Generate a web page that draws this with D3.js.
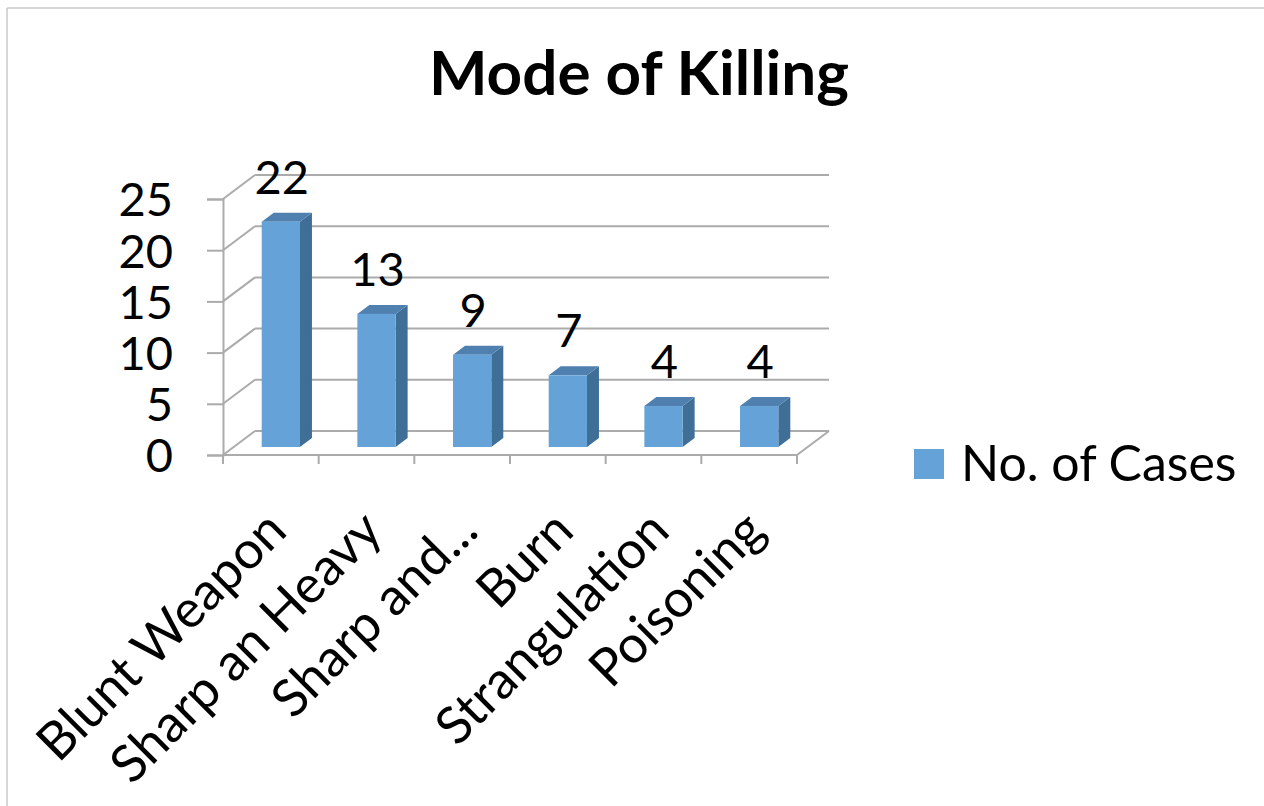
<!DOCTYPE html>
<html>
<head>
<meta charset="utf-8">
<script src="https://cdn.jsdelivr.net/npm/d3@7"></script>
<style>
  body { margin: 0; background: #fff; }
  text { font-family: Lato, "Open Sans", sans-serif; fill: #000; }
</style>
</head>
<body>
<div id="chart"></div>
<script>
var categories = ["Blunt Weapon", "Sharp an Heavy", "Sharp and...", "Burn", "Strangulation", "Poisoning"];
var cases = [22, 13, 9, 7, 4, 4];
var yTicks = [0, 5, 10, 15, 20, 25];
var seriesName = "No. of Cases";
var title = "Mode of Killing";

var w = 1264, h = 806;
var svg = d3.select("#chart").append("svg")
    .attr("width", w)
    .attr("height", h);

// outer frame (only top and left edge show in the picture)
svg.append("line").attr("x1", 7).attr("y1", 8).attr("x2", w).attr("y2", 8)
    .attr("stroke", "#c8c8c8").attr("stroke-width", 1.5);
svg.append("line").attr("x1", 7).attr("y1", 8).attr("x2", 7).attr("y2", h)
    .attr("stroke", "#c8c8c8").attr("stroke-width", 1.5);

var x = d3.scaleBand().domain(categories).range([223, 797]);
var y = d3.scaleLinear().domain([0, 25]).range([455, 199]);

var depthX = 32, depthY = -24;      // wall depth
var barDX = 12, barDY = -9;        // bar depth
var offX = 10, offY = -8;          // bar front face sits inside the floor
var gridColor = "#ababab";

// back wall gridlines and side wall diagonals
var grid = svg.append("g");
yTicks.forEach(function(t) {
    grid.append("line")
        .attr("x1", x.range()[0] + depthX).attr("y1", y(t) + depthY)
        .attr("x2", x.range()[1] + depthX).attr("y2", y(t) + depthY)
        .attr("stroke", gridColor).attr("stroke-width", 2);
    grid.append("line")
        .attr("x1", x.range()[0]).attr("y1", y(t))
        .attr("x2", x.range()[0] + depthX).attr("y2", y(t) + depthY)
        .attr("stroke", gridColor).attr("stroke-width", 2);
});
// floor right edge and front edge
grid.append("line")
    .attr("x1", x.range()[1]).attr("y1", y(0))
    .attr("x2", x.range()[1] + depthX).attr("y2", y(0) + depthY)
    .attr("stroke", gridColor).attr("stroke-width", 2);
grid.append("line")
    .attr("x1", x.range()[0]).attr("y1", y(0))
    .attr("x2", x.range()[1]).attr("y2", y(0))
    .attr("stroke", gridColor).attr("stroke-width", 2);

// y axis
var yAxis = d3.axisLeft(y).tickValues(yTicks).tickSize(16).tickPadding(34);
var ya = svg.append("g").attr("transform", "translate(" + x.range()[0] + ",0)").call(yAxis);
ya.select(".domain").attr("stroke", gridColor).attr("stroke-width", 2);
ya.selectAll(".tick line").attr("stroke", gridColor).attr("stroke-width", 2);
ya.selectAll(".tick text").attr("font-size", 47).attr("font-family", "Lato").attr("fill", "#000")
    .attr("dy", "0.36em");

// category ticks
var xa = svg.append("g");
var edges = categories.map(function(c) { return x(c); }).concat([x.range()[1]]);
xa.selectAll("line").data(edges).enter().append("line")
    .attr("x1", function(d) { return d; }).attr("x2", function(d) { return d; })
    .attr("y1", y(0)).attr("y2", y(0) + 9)
    .attr("stroke", gridColor).attr("stroke-width", 2);

// category labels
xa.selectAll("text").data(categories).enter().append("text")
    .attr("transform", function(d) {
        var cx = x(d) + x.bandwidth() / 2 + 5;
        return "translate(" + cx + "," + 520 + ") rotate(-45)";
    })
    .attr("text-anchor", "end")
    .attr("dy", "0.36em")
    .attr("font-size", 52)
    .text(function(d) { return d; });

// bars
var barW = x.bandwidth() * 0.4;
var bars = svg.append("g").selectAll("g").data(cases).enter().append("g");
function bx(i) { return x(categories[i]) + (x.bandwidth() - barW) / 2 + offX; }
function by(v) { return y(v) + offY; }
var base = y(0) + offY;

bars.append("path") // side
    .attr("d", function(d, i) {
        var x0 = bx(i) + barW;
        return "M" + x0 + "," + base + "L" + (x0 + barDX) + "," + (base + barDY) +
            "L" + (x0 + barDX) + "," + (by(d) + barDY) + "L" + x0 + "," + by(d) + "Z";
    })
    .attr("fill", "#3f6f97");
bars.append("path") // top
    .attr("d", function(d, i) {
        var x0 = bx(i);
        return "M" + x0 + "," + by(d) + "L" + (x0 + barDX) + "," + (by(d) + barDY) +
            "L" + (x0 + barW + barDX) + "," + (by(d) + barDY) + "L" + (x0 + barW) + "," + by(d) + "Z";
    })
    .attr("fill", "#4f80b0");
bars.append("rect") // front
    .attr("x", function(d, i) { return bx(i); })
    .attr("y", function(d) { return by(d); })
    .attr("width", barW)
    .attr("height", function(d) { return base - by(d); })
    .attr("fill", "#64a2d8");

// value labels
bars.append("text")
    .attr("x", function(d, i) { return bx(i) + barW / 2 + 1; })
    .attr("y", function(d) { return by(d) - 28; })
    .attr("text-anchor", "middle")
    .attr("font-size", 47)
    .text(function(d) { return d; });

// title
svg.append("text")
    .attr("x", 639).attr("y", 95)
    .attr("text-anchor", "middle")
    .attr("font-size", 62)
    .attr("font-weight", "bold")
    .text(title);

// legend
var lg = svg.append("g");
lg.append("rect").attr("x", 914).attr("y", 449).attr("width", 30).attr("height", 30)
    .attr("fill", "#64a2d8");
lg.append("text").attr("x", 961).attr("y", 481)
    .attr("font-size", 50)
    .text(seriesName);
</script>
</body>
</html>
